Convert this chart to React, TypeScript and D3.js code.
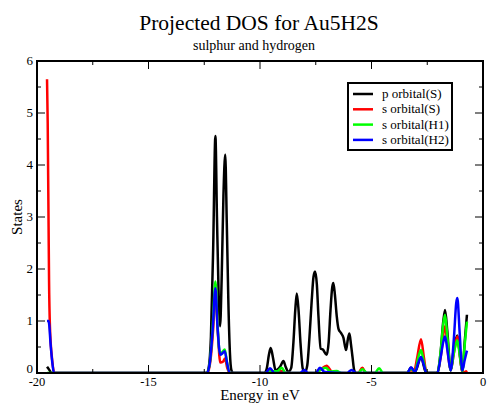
import React from "react";
import * as d3 from "d3";

type Pt = [number, number];

const seriesNames = ["p orbital(S)", "s orbital(S)", "s orbital(H1)", "s orbital(H2)"];
const seriesColors = ["#000000", "#ff0000", "#00ff00", "#0000ff"];

const pOrbitalS: Pt[] = [
  [-19.55, 0.12], [-19.45, 0.06], [-19.35, 0], [-12.38, 0], [-12.3, 0.1], [-12.2, 0.7], [-12.1, 2.4], [-12.0, 4.56],
  [-11.93, 3.0], [-11.86, 1.6], [-11.79, 0.9], [-11.72, 1.8], [-11.64, 3.4], [-11.56, 4.2], [-11.49, 2.9],
  [-11.42, 1.4], [-11.35, 0.4], [-11.28, 0.05], [-11.2, 0],
  [-9.8, 0], [-9.7, 0.08], [-9.6, 0.35], [-9.52, 0.48], [-9.42, 0.3], [-9.3, 0.05], [-9.1, 0.12], [-8.95, 0.23],
  [-8.85, 0.12], [-8.73, 0.02], [-8.6, 0.1], [-8.5, 0.6], [-8.42, 1.2], [-8.35, 1.53], [-8.27, 1.2], [-8.18, 0.55],
  [-8.08, 0.08], [-7.98, 0.02], [-7.88, 0.15], [-7.78, 0.7], [-7.68, 1.4], [-7.6, 1.85], [-7.53, 1.95], [-7.45, 1.7],
  [-7.38, 1.1], [-7.28, 0.47], [-7.18, 0.45], [-7.01, 0.35], [-6.92, 0.6], [-6.84, 1.2], [-6.76, 1.65], [-6.71, 1.73],
  [-6.64, 1.5], [-6.56, 1.1], [-6.48, 0.85], [-6.37, 0.77], [-6.26, 0.68], [-6.14, 0.44], [-6.06, 0.65], [-5.99, 0.76],
  [-5.92, 0.55], [-5.85, 0.3], [-5.78, 0.06], [-5.7, 0],
  [-3.4, 0], [-3.23, 0.1], [-3.05, 0.02], [-2.78, 0.3], [-2.55, 0], [-2.05, 0], [-1.9, 0.4], [-1.78, 1.0], [-1.7, 1.21],
  [-1.6, 0.8], [-1.45, 0.05], [-1.3, 0.5], [-1.15, 0.72], [-1.05, 0.4], [-0.93, 0.03], [-0.82, 0.6], [-0.72, 1.12],
];

const sOrbitalS: Pt[] = [
  [-19.55, 5.65], [-19.52, 4.8], [-19.5, 3.8], [-19.48, 2.8], [-19.46, 1.8], [-19.42, 0.9], [-19.32, 0.25], [-19.22, 0],
  [-12.35, 0], [-12.22, 0.25], [-12.1, 0.85], [-12.0, 1.58], [-11.9, 0.85], [-11.78, 0.2], [-11.65, 0.22], [-11.57, 0.28],
  [-11.47, 0.1], [-11.35, 0],
  [-9.75, 0], [-9.55, 0.06], [-9.35, 0], [-9.03, 0.04], [-8.8, 0], [-7.5, 0], [-7.3, 0.06], [-7.01, 0.14], [-6.8, 0.03],
  [-6.6, 0], [-5.6, 0], [-5.41, 0.1], [-5.25, 0],
  [-3.4, 0], [-3.23, 0.06], [-3.1, 0.02], [-2.95, 0.3], [-2.78, 0.65], [-2.65, 0.3], [-2.53, 0], [-2.05, 0], [-1.9, 0.3],
  [-1.7, 0.9], [-1.55, 0.3], [-1.45, 0.05], [-1.3, 0.4], [-1.15, 0.7], [-1.0, 0.2], [-0.93, 0.02], [-0.8, 0.02], [-0.72, 0.05],
];

const sOrbitalH1: Pt[] = [
  [-19.55, 0], [-19.3, 0], [-12.38, 0], [-12.25, 0.2], [-12.12, 0.9], [-12.0, 1.76], [-11.9, 0.9], [-11.8, 0.38],
  [-11.7, 0.4], [-11.58, 0.45], [-11.48, 0.2], [-11.36, 0],
  [-9.75, 0], [-9.55, 0.03], [-9.2, 0.04], [-9.03, 0.1], [-8.85, 0], [-7.5, 0], [-7.3, 0.06], [-7.05, 0.1], [-6.85, 0.03],
  [-6.56, 0.04], [-6.35, 0], [-5.6, 0], [-5.41, 0.07], [-5.2, 0], [-4.85, 0], [-4.66, 0.09], [-4.48, 0],
  [-3.4, 0], [-3.23, 0.08], [-3.05, 0.02], [-2.9, 0.3], [-2.78, 0.44], [-2.65, 0.2], [-2.53, 0], [-2.05, 0], [-1.9, 0.4],
  [-1.78, 0.95], [-1.7, 1.12], [-1.6, 0.7], [-1.45, 0.05], [-1.3, 0.4], [-1.15, 0.63], [-1.03, 0.3], [-0.93, 0.03],
  [-0.82, 0.55], [-0.72, 0.99],
];

const sOrbitalH2: Pt[] = [
  [-19.55, 1.0], [-19.48, 1.0], [-19.38, 0.5], [-19.3, 0.15], [-19.24, 0], [-12.38, 0], [-12.25, 0.2], [-12.12, 0.85],
  [-12.0, 1.63], [-11.9, 0.85], [-11.78, 0.35], [-11.68, 0.38], [-11.58, 0.42], [-11.48, 0.2], [-11.36, 0],
  [-9.75, 0], [-9.55, 0.09], [-9.35, 0], [-8.2, 0], [-8.01, 0.06], [-7.85, 0], [-7.5, 0], [-7.31, 0.1], [-7.1, 0.02],
  [-6.1, 0], [-5.89, 0.06], [-5.7, 0],
  [-3.4, 0], [-3.23, 0.11], [-3.05, 0.02], [-2.9, 0.2], [-2.78, 0.31], [-2.65, 0.15], [-2.53, 0], [-2.05, 0], [-1.9, 0.3],
  [-1.78, 0.6], [-1.7, 0.7], [-1.6, 0.45], [-1.45, 0.05], [-1.3, 0.7], [-1.2, 1.35], [-1.15, 1.44], [-1.05, 0.8],
  [-0.93, 0.05], [-0.82, 0.25], [-0.72, 0.43],
];

const allSeries = [pOrbitalS, sOrbitalS, sOrbitalH1, sOrbitalH2];

const xMajorTicks = [-20, -15, -10, -5, 0];
const xMinorTicks = [-17.5, -12.5, -7.5, -2.5];
const yMajorTicks = [0, 1, 2, 3, 4, 5, 6];
const yMinorTicks = [0.5, 1.5, 2.5, 3.5, 4.5, 5.5];

const W = 487;
const H = 405;
const L = 37, R = 483, T = 61, B = 373;
const FONT = "Liberation Serif, Times New Roman, Times, DejaVu Serif, serif";
const ts = { fontFamily: FONT };

export default function App() {
  const x = d3.scaleLinear().domain([-20, 0]).range([L, R]);
  const y = d3.scaleLinear().domain([0, 6]).range([B, T]);
  const line = d3
    .line<Pt>()
    .x((d) => x(d[0]))
    .y((d) => y(d[1]))
    .curve(d3.curveMonotoneX);

  const major = 8, minor = 4;

  return (
    <svg width={W} height={H} style={{ position: "absolute", left: 0, top: 0, background: "#fff" }}>
      <rect x={0} y={0} width={W} height={H} fill="#fff" />
      <text x={259} y={30} textAnchor="middle" fontSize={21.5} style={ts}>Projected DOS for Au5H2S</text>
      <text x={254} y={49.5} textAnchor="middle" fontSize={14} style={ts}>sulphur and hydrogen</text>

      <defs>
        <clipPath id="plotclip">
          <rect x={L} y={T - 2} width={R - L} height={B - T + 2} />
        </clipPath>
      </defs>

      <g clipPath="url(#plotclip)">
        {allSeries.map((s, i) => (
          <path key={i} d={line(s) || ""} fill="none" stroke={seriesColors[i]} strokeWidth={2.5} strokeLinejoin="round" />
        ))}
      </g>

      <g stroke="#000" strokeWidth={1}>
        {xMajorTicks.map((t) => (
          <g key={"xM" + t}>
            <line x1={x(t)} x2={x(t)} y1={B} y2={B - major} />
            <line x1={x(t)} x2={x(t)} y1={T} y2={T + major} />
          </g>
        ))}
        {xMinorTicks.map((t) => (
          <g key={"xm" + t}>
            <line x1={x(t)} x2={x(t)} y1={B} y2={B - minor} />
            <line x1={x(t)} x2={x(t)} y1={T} y2={T + minor} />
          </g>
        ))}
        {yMajorTicks.map((t) => (
          <g key={"yM" + t}>
            <line x1={L} x2={L + major} y1={y(t)} y2={y(t)} />
            <line x1={R} x2={R - major} y1={y(t)} y2={y(t)} />
          </g>
        ))}
        {yMinorTicks.map((t) => (
          <g key={"ym" + t}>
            <line x1={L} x2={L + minor} y1={y(t)} y2={y(t)} />
            <line x1={R} x2={R - minor} y1={y(t)} y2={y(t)} />
          </g>
        ))}
      </g>

      <rect x={L} y={T} width={R - L} height={B - T} fill="none" stroke="#000" strokeWidth={2} />

      {xMajorTicks.map((t) => (
        <text key={"xl" + t} x={x(t)} y={385.5} textAnchor="middle" fontSize={12.5} style={ts}>{t}</text>
      ))}
      {yMajorTicks.map((t) => (
        <text key={"yl" + t} x={33} y={y(t) - (t === 0 ? 4 : 0)} dy="0.3em" textAnchor="end" fontSize={13} style={ts}>{t}</text>
      ))}

      <text x={260} y={400} textAnchor="middle" fontSize={15} style={ts}>Energy in eV</text>
      <text transform={`translate(22,${(T + B) / 2}) rotate(-90)`} textAnchor="middle" fontSize={15} style={ts}>States</text>

      <rect x={348} y={83} width={104} height={67} fill="#fff" stroke="#000" strokeWidth={2} />
      {seriesNames.map((n, i) => {
        const ly = 94 + i * 15.3;
        return (
          <g key={n}>
            <line x1={353} x2={373} y1={ly} y2={ly} stroke={seriesColors[i]} strokeWidth={2.5} />
            <text x={382} y={ly + 4} fontSize={13} style={ts}>{n}</text>
          </g>
        );
      })}
    </svg>
  );
}
